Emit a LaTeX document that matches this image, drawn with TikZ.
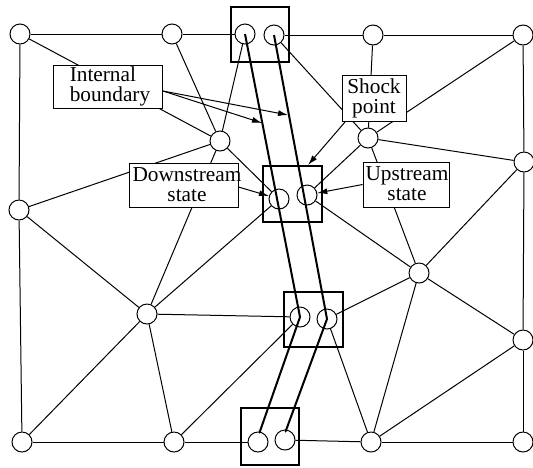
\documentclass[tikz,border=0pt]{standalone}
\usepackage{fontspec}
\setmainfont{Liberation Serif}
\usetikzlibrary{arrows.meta,calc}
\begin{document}
\begin{tikzpicture}[x=0.5pt,y=-0.5pt,
 pt/.style={circle,draw,line width=0.5pt,minimum size=10pt,inner sep=0pt},
 edge/.style={line width=0.5pt},
 lbl/.style={draw,fill=white,line width=0.5pt,inner sep=0pt},
 txt/.style={font=\fontsize{10.65pt}{10pt}\selectfont,align=center,inner sep=0pt},
 sq/.style={draw,line width=1pt,inner sep=0pt},
 bnd/.style={line width=1pt,-{Latex[length=1.5pt,width=1.5pt]}},
 ptr/.style={line width=0.5pt,-{Latex[length=5pt,width=3pt]}}]
\useasboundingbox (0,0) rectangle (533,467);
% mesh points
\node[pt] (A1) at (20,34) {};
\node[pt] (A2) at (172,34) {};
\node[pt] (A3) at (373,35) {};
\node[pt] (A4) at (523,35) {};
\node[pt] (B1) at (220,141) {};
\node[pt] (B2) at (368,138) {};
\node[pt] (B3) at (524,162) {};
\node[pt] (C1) at (19,210) {};
\node[pt] (D1) at (419,273) {};
\node[pt] (E1) at (147,314) {};
\node[pt] (E2) at (523,340) {};
\node[pt] (F1) at (22,442) {};
\node[pt] (F2) at (174,442) {};
\node[pt] (F3) at (371,442) {};
\node[pt] (F4) at (523,442) {};
% shock points
\node[pt] (b1l) at (245,34) {};
\node[pt] (b1r) at (274,35) {};
\node[pt] (b2l) at (279,199) {};
\node[pt] (b2r) at (307,195) {};
\node[pt] (b3l) at (300,317) {};
\node[pt] (b3r) at (327,319) {};
\node[pt] (b4l) at (258,442) {};
\node[pt] (b4r) at (285,440) {};
% edges
\draw[edge] (A1) -- (A2);
\draw[edge] (A2) -- (b1l);
\draw[edge] (b1r) -- (A3);
\draw[edge] (A3) -- (A4);
\draw[edge] (A1) -- (C1);
\draw[edge] (C1) -- (F1);
\draw[edge] (A4) -- (B3);
\draw[edge] (B3) -- (E2);
\draw[edge] (E2) -- (F4);
\draw[edge] (F1) -- (F2);
\draw[edge] (F2) -- (b4l);
\draw[edge] (b4r) -- (F3);
\draw[edge] (F3) -- (F4);
\draw[edge] (A1) -- (B1);
\draw[edge] (A2) -- (B1);
\draw[edge] (B1) -- (b1l);
\draw[edge] (B1) -- (C1);
\draw[edge] (B1) -- (E1);
\draw[edge] (B1) -- (b2l);
\draw[edge] (b1r) -- (B2);
\draw[edge] (A3) -- (B2);
\draw[edge] (A4) -- (B2);
\draw[edge] (B2) -- (B3);
\draw[edge] (B2) -- (b2r);
\draw[edge] (B2) -- (D1);
\draw[edge] (B3) -- (D1);
\draw[edge] (b2r) -- (D1);
\draw[edge] (b2l) -- (E1);
\draw[edge] (C1) -- (E1);
\draw[edge] (E1) -- (b3l);
\draw[edge] (E1) -- (F1);
\draw[edge] (E1) -- (F2);
\draw[edge] (F2) -- (b3l);
\draw[edge] (b3r) -- (D1);
\draw[edge] (b3r) -- (F3);
\draw[edge] (D1) -- (E2);
\draw[edge] (D1) -- (F3);
\draw[edge] (E2) -- (F3);
% shock boxes
\node[sq,minimum width=29pt,minimum height=27.5pt] (s1) at (260,34.5) {};
\node[sq,minimum width=29.5pt,minimum height=28pt] (s2) at (292.5,194) {};
\node[sq,minimum width=29.5pt,minimum height=27.5pt] (s3) at (313.5,319.5) {};
\node[sq,minimum width=29pt,minimum height=28.5pt] (s4) at (270,436.5) {};
% internal boundary
\coordinate (tl) at (259,434);
\coordinate (tr) at (285,433);
\draw[bnd] (b1l.center) -- (b3l.center) -- (tl);
\draw[bnd] (b1r.center) -- (b3r.center) -- (tr);
% labels
\node[lbl,minimum width=54.5pt,minimum height=21.5pt] (ib) at (107.5,86.5) {};
\node[txt,align=left] (ibt) at (110,86) {Internal\\boundary};
\node[lbl,minimum width=54.5pt,minimum height=22pt] (ds) at (183.5,185) {};
\node[txt] (dst) at (187,185) {Downstream\\state};
\node[lbl,minimum width=32pt,minimum height=23pt] (sp) at (374,98) {};
\node[txt] (spt) at (374,98) {Shock\\point};
\node[lbl,minimum width=43pt,minimum height=22.5pt] (us) at (406,184.5) {};
\node[txt] (ust) at (407,184) {Upstream\\state};
% pointers
\coordinate (is) at (163,91);
\coordinate (ia) at (262,123);
\coordinate (ib2) at (288,115);
\coordinate (sps) at (345,122);
\coordinate (s2t) at (308,165);
\draw[ptr] (is) -- (ia);
\draw[ptr] (is) -- (ib2);
\draw[ptr] (sps) -- (s2t);
\draw[ptr] (ds.east |- 0,187) -- (b2l);
\draw[ptr] (us.west) -- (b2r);
\end{tikzpicture}
\end{document}
